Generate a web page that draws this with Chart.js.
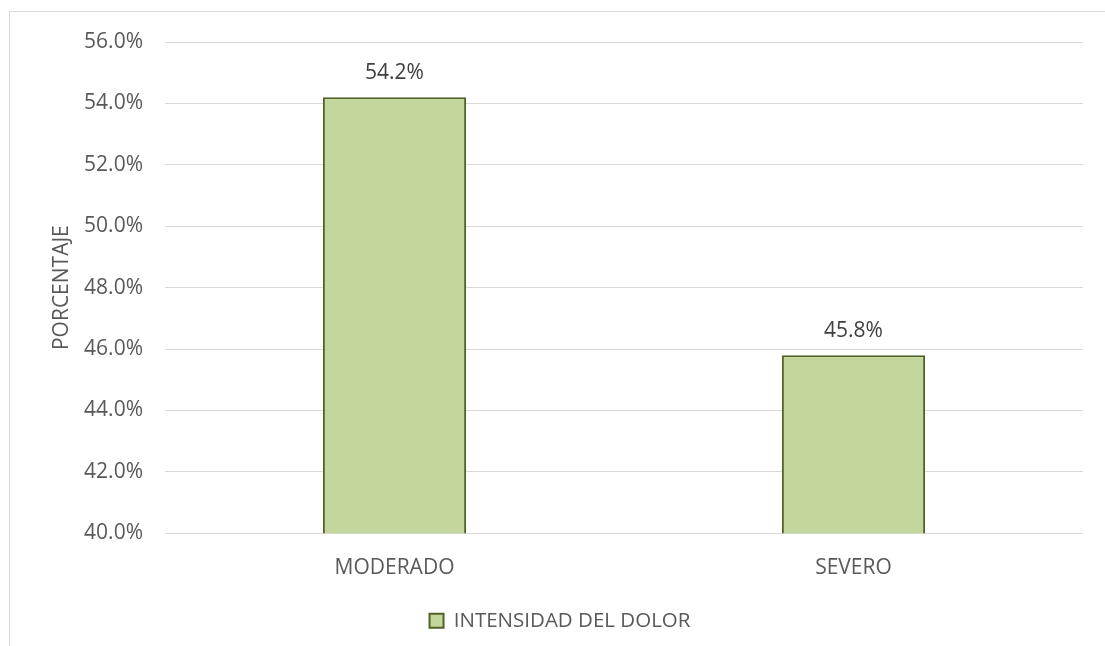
<!DOCTYPE html>
<html>
<head>
<meta charset="utf-8">
<script src="https://cdn.jsdelivr.net/npm/chart.js@4.4.0/dist/chart.umd.min.js"></script>
<style>
  html, body { margin: 0; padding: 0; background: #ffffff; overflow: hidden; }
  #frame { position: absolute; left: 9px; top: 11px; width: 1200px; height: 700px;
           border-left: 1px solid #D9D9D9; border-top: 1px solid #D9D9D9; box-sizing: border-box; }
  #wrap { position: absolute; left: 0; top: 0; width: 1105px; height: 646px; }
</style>
</head>
<body>
<div id="frame"></div>
<div id="wrap"><canvas id="c" width="1105" height="646"></canvas></div>
<script>
const categories = ["MODERADO", "SEVERO"];
const seriesName = "INTENSIDAD DEL DOLOR";
const values = [54.2, 45.8];
const yTicks = [40, 42, 44, 46, 48, 50, 52, 54, 56];

const FONT = "'Open Sans', sans-serif";

const valueLabels = {
  id: 'valueLabels',
  afterDatasetsDraw(chart) {
    const ctx = chart.ctx;
    ctx.save();
    ctx.font = "21px " + FONT;
    ctx.fillStyle = "#404040";
    ctx.textAlign = "center";
    ctx.textBaseline = "middle";
    const meta = chart.getDatasetMeta(0);
    meta.data.forEach((bar, i) => {
      ctx.fillText(values[i].toFixed(1) + "%", bar.x, bar.y - 24);
    });
    ctx.restore();
  }
};

new Chart(document.getElementById('c'), {
  type: 'bar',
  data: {
    labels: categories,
    datasets: [{
      label: seriesName,
      data: values,
      backgroundColor: '#C3D69B',
      borderColor: '#4F6228',
      borderWidth: 2,
      barPercentage: 0.312,
      categoryPercentage: 1.0
    }]
  },
  options: {
    responsive: false,
    animation: false,
    devicePixelRatio: 1,
    layout: { padding: { left: 37, right: 22, top: 42, bottom: 5 } },
    plugins: {
      tooltip: { enabled: false },
      legend: {
        position: 'bottom',
        labels: {
          color: '#595959',
          font: { family: FONT, size: 20.5 },
          boxWidth: 14,
          boxHeight: 14,
          padding: 16,
          generateLabels(chart) {
            return [{
              text: seriesName,
              fillStyle: '#C3D69B',
              strokeStyle: '#4F6228',
              lineWidth: 2,
              fontColor: '#595959',
              datasetIndex: 0
            }];
          }
        }
      }
    },
    scales: {
      x: {
        grid: { display: false },
        border: { display: false },
        ticks: { color: '#595959', font: { family: FONT, size: 21 }, padding: 14 }
      },
      y: {
        min: 40,
        max: 56,
        afterBuildTicks(scale) { scale.ticks = yTicks.map(v => ({ value: v })); },
        grid: { color: '#D9D9D9', lineWidth: 1, drawTicks: false },
        border: { display: false },
        ticks: {
          color: '#595959',
          font: { family: FONT, size: 21 },
          padding: 22,
          callback: v => Number(v).toFixed(1) + '%'
        },
        title: {
          display: true,
          text: 'PORCENTAJE',
          color: '#595959',
          font: { family: FONT, size: 21 },
          padding: { top: 12, bottom: 0 }
        },
        afterFit(scale) { scale.width = 165 - 37; }
      }
    }
  },
  plugins: [valueLabels]
});
</script>
</body>
</html>
